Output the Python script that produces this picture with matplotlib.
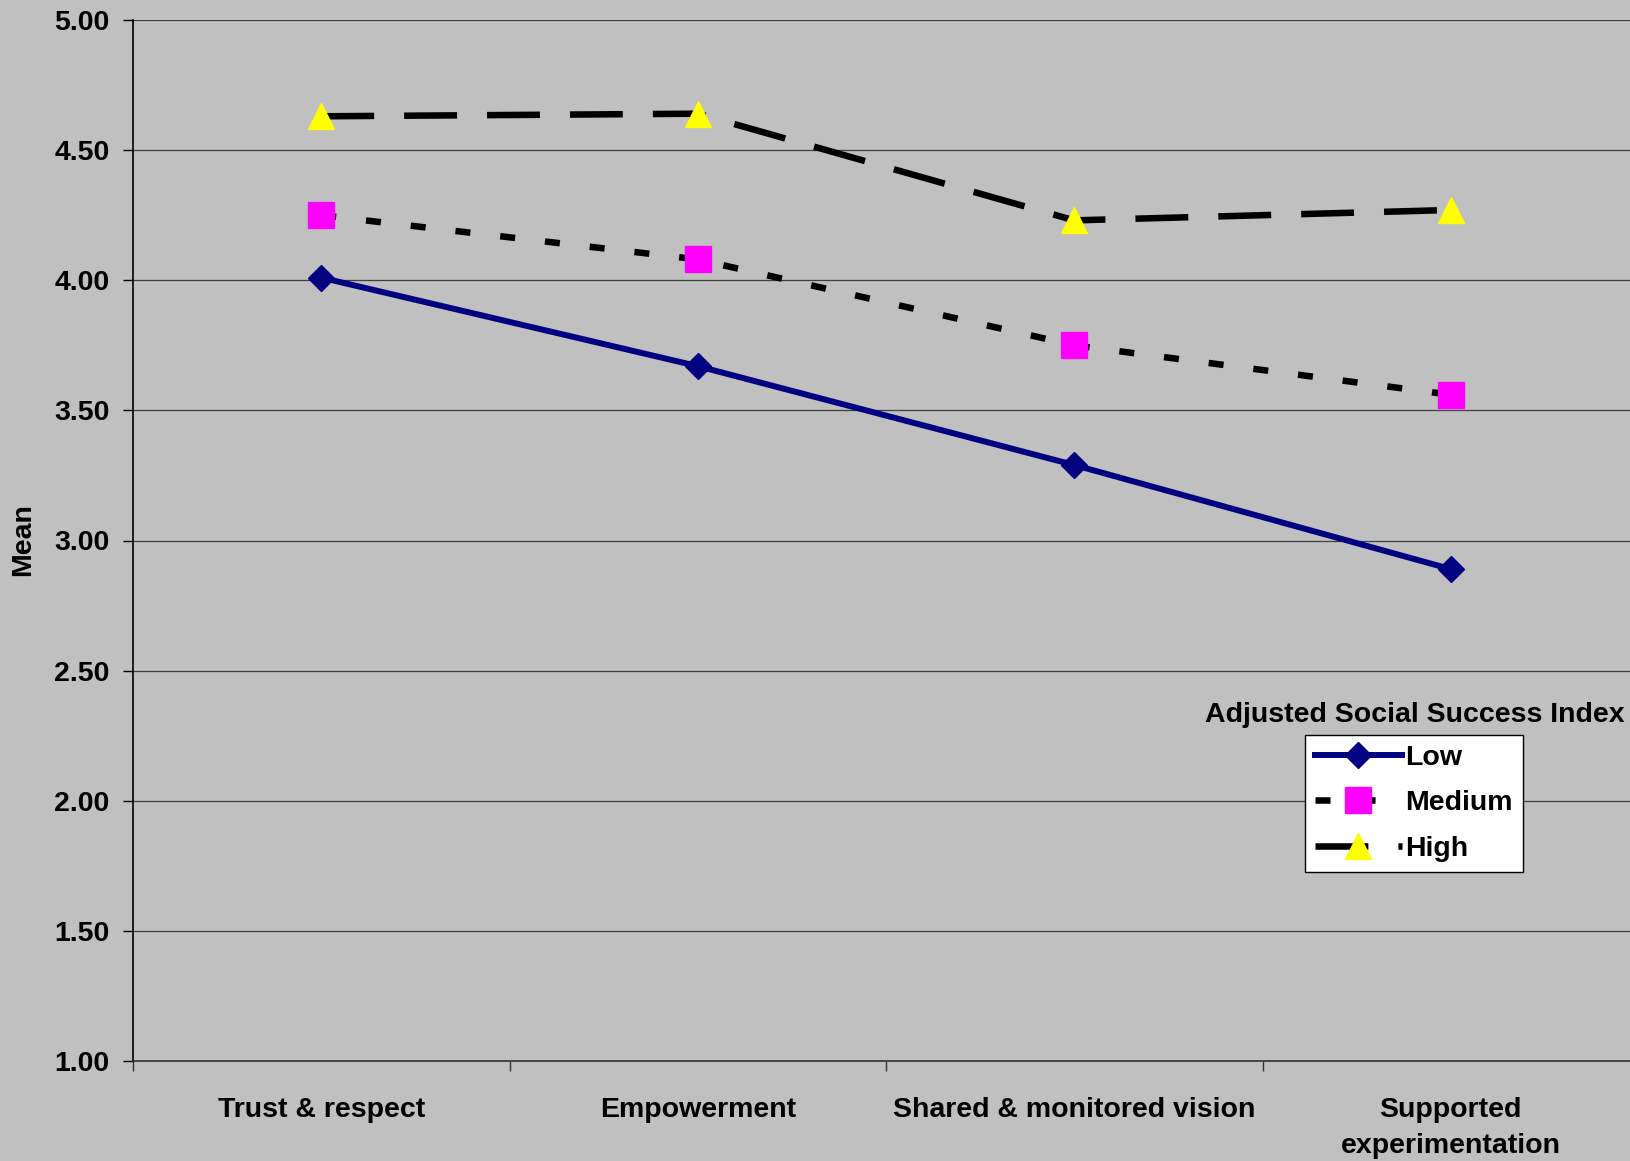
import matplotlib.pyplot as plt

# Mean scores by culture dimension, split by social success level
categories = ["Trust & respect", "Empowerment", "Shared & monitored vision", "Supported\nexperimentation"]
low = [4.01, 3.67, 3.29, 2.89]
medium = [4.25, 4.08, 3.75, 3.56]
high = [4.63, 4.64, 4.23, 4.27]
series_names = ["Low", "Medium", "High"]
y_ticks = [1.00, 1.50, 2.00, 2.50, 3.00, 3.50, 4.00, 4.50, 5.00]

plt.rcParams['font.family'] = ['Liberation Sans', 'DejaVu Sans']
plt.rcParams['font.weight'] = 'bold'
FS = 20.5
BG = "#c0c0c0"

fig = plt.figure(figsize=(16.3, 11.61), dpi=100, facecolor=BG)
# axes run slightly past the right edge of the figure
ax = fig.add_axes([133 / 1630, 100 / 1161, 1506 / 1630, 1041 / 1161], facecolor=BG)

xpos = [i + 0.5 for i in range(len(categories))]

ax.plot(xpos, low, color="#000080", lw=4.3, marker="D", ms=13,
        mfc="#000080", mec="#000080", label=series_names[0], zorder=3)
ax.plot(xpos, medium, color="black", lw=4.7, dashes=(2.3, 4.6), dash_capstyle="butt",
        marker="s", ms=18.5, mfc="#ff00ff", mec="#ff00ff", label=series_names[1], zorder=3)
ax.plot(xpos, high, color="black", lw=4.7, dashes=(8.1, 4.6), dash_capstyle="butt",
        marker="^", ms=19, mfc="#ffff00", mec="#ffff00", label=series_names[2], zorder=3)

ax.set_xlim(0, len(categories))
ax.set_ylim(1, 5)
ax.set_yticks(y_ticks)
ax.set_yticklabels([f"{v:.2f}" for v in y_ticks], fontsize=FS, fontweight="bold")

# category labels sit between the boundary ticks
ax.set_xticks(range(len(categories) + 1))
ax.set_xticklabels([])
ax.set_xticks(xpos, minor=True)
ax.set_xticklabels(categories, minor=True, fontsize=FS, fontweight="bold", linespacing=1.5)
ax.tick_params(axis="x", which="minor", length=0, pad=26)
ax.tick_params(axis="x", which="major", length=7, width=1, direction="out", color="#333333")
ax.tick_params(axis="y", length=7, width=1, direction="out", pad=10)

ax.grid(axis="y", color="#404040", lw=0.9)
ax.set_axisbelow(True)
for side in ["top", "right"]:
    ax.spines[side].set_visible(False)
ax.spines["left"].set_linewidth(1.2)
ax.spines["bottom"].set_linewidth(1.2)
ax.spines["bottom"].set_color("#333333")

fig.text(23 / 1630, 1 - 540 / 1161, "Mean", rotation=90, ha="center", va="center",
         fontsize=FS, fontweight="bold")

leg = ax.legend(loc="upper left", bbox_to_anchor=(1305 / 1630, 1 - 735 / 1161),
                bbox_transform=fig.transFigure, borderaxespad=0, fancybox=False,
                frameon=True, edgecolor="black", framealpha=1, handlelength=3.05,
                handletextpad=0.12, labelspacing=0.68, borderpad=0.35,
                prop={"size": FS, "weight": "bold"})
leg.get_frame().set_linewidth(1.0)
fig.text(1415 / 1630, 1 - 715 / 1161, "Adjusted Social Success Index", ha="center",
         va="center", fontsize=FS, fontweight="bold")

fig.savefig("out.png", dpi=100, facecolor=BG)
